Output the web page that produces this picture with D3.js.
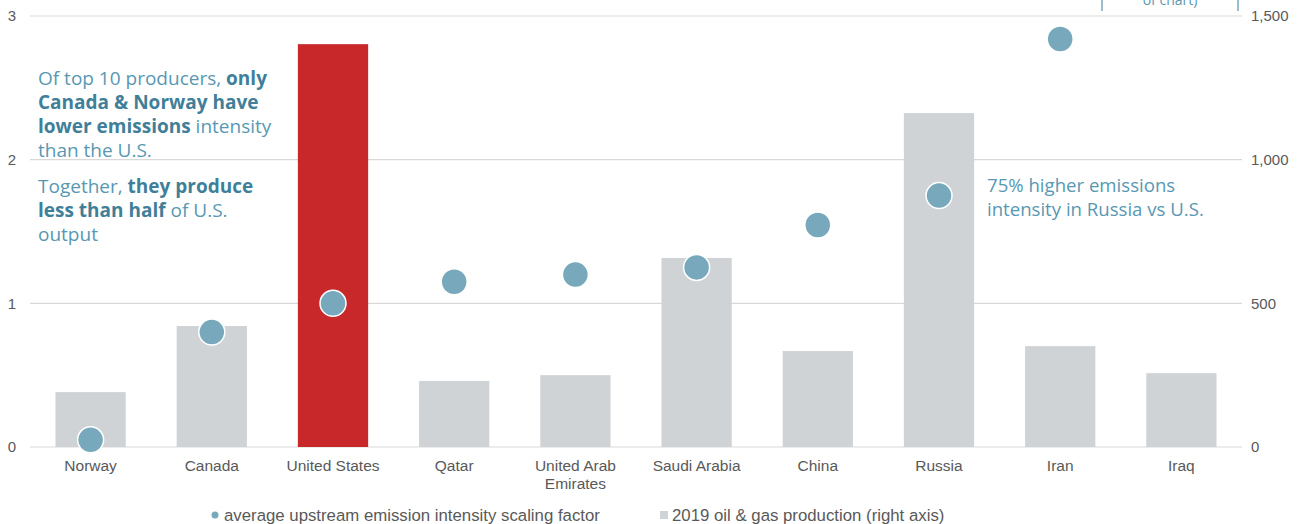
<!DOCTYPE html>
<html>
<head>
<meta charset="utf-8">
<script src="https://cdnjs.cloudflare.com/ajax/libs/d3/7.8.5/d3.min.js"></script>
<style>
  body { margin: 0; background: #fff; }
  svg { display: block; }
</style>
</head>
<body>
<main></main>
<script>
const countries = ["Norway", "Canada", "United States", "Qatar", "United Arab Emirates",
  "Saudi Arabia", "China", "Russia", "Iran", "Iraq"];
const production = [191, 421, 1402, 230, 250, 658, 334, 1162, 351, 257];
const intensity = [0.05, 0.80, 1.00, 1.15, 1.20, 1.25, 1.545, 1.75, 2.84, null];
const leftTicks = [0, 1, 2, 3];
const rightTicks = [0, 500, 1000, 1500];

const width = 1304, height = 524;
const plot = { left: 30, right: 1242, top: 16, bottom: 447 };

const svg = d3.select("main").append("svg")
  .attr("width", width).attr("height", height);

const x = d3.scaleBand().domain(countries).range([plot.left, plot.right]).paddingInner(0.42).paddingOuter(0.21);
const yL = d3.scaleLinear().domain([0, 3]).range([plot.bottom, plot.top]);
const yR = d3.scaleLinear().domain([0, 1500]).range([plot.bottom, plot.top]);

const axisFont = "'Liberation Sans', Arial, sans-serif";
const noteFont = "'Open Sans', 'Noto Sans', sans-serif";

// gridlines
svg.append("g").selectAll("line").data(leftTicks).enter().append("line")
  .attr("x1", plot.left).attr("x2", plot.right)
  .attr("y1", d => yL(d)).attr("y2", d => yL(d))
  .attr("stroke", "#d9d9d9").attr("stroke-width", 1.2);

// left axis
const leftAxis = svg.append("g").attr("transform", "translate(" + plot.left + ",0)")
  .call(d3.axisLeft(yL).tickValues(leftTicks).tickSize(0).tickPadding(14).tickFormat(d3.format("d")));
leftAxis.select(".domain").remove();
leftAxis.selectAll("text").style("font-family", axisFont).style("font-size", "15px").attr("fill", "#595959");

// right axis
const rightAxis = svg.append("g").attr("transform", "translate(" + plot.right + ",0)")
  .call(d3.axisRight(yR).tickValues(rightTicks).tickSize(0).tickPadding(9).tickFormat(d3.format(",")));
rightAxis.select(".domain").remove();
rightAxis.selectAll("text").style("font-family", axisFont).style("font-size", "15px").attr("fill", "#595959");

// bars
svg.append("g").selectAll("rect").data(countries).enter().append("rect")
  .attr("x", d => x(d))
  .attr("width", x.bandwidth())
  .attr("y", (d, i) => yR(production[i]))
  .attr("height", (d, i) => yR(0) - yR(production[i]))
  .attr("fill", d => d === "United States" ? "#c9282a" : "#d0d3d6");

// dots
svg.append("g").selectAll("circle")
  .data(countries.map((c, i) => ({ c, v: intensity[i] })).filter(d => d.v !== null))
  .enter().append("circle")
  .attr("cx", d => x(d.c) + x.bandwidth() / 2)
  .attr("cy", d => yL(d.v))
  .attr("r", 13)
  .attr("fill", "#77a8bc")
  .attr("stroke", "#fff").attr("stroke-width", 1.5);

// category labels
const cat = svg.append("g").selectAll("text").data(countries).enter().append("text")
  .attr("x", d => x(d) + x.bandwidth() / 2)
  .attr("y", 471)
  .attr("text-anchor", "middle")
  .style("font-family", axisFont).style("font-size", "15.5px").attr("fill", "#595959");
cat.each(function (d) {
  const t = d3.select(this);
  const parts = d === "United Arab Emirates" ? ["United Arab", "Emirates"] : [d];
  parts.forEach((p, i) => t.append("tspan").attr("x", x(d) + x.bandwidth() / 2).attr("dy", i ? 18 : 0).text(p));
});

// legend
const legend = svg.append("g").style("font-family", axisFont).style("font-size", "16.8px").attr("fill", "#595959");
legend.append("circle").attr("cx", 215).attr("cy", 515).attr("r", 3.5).attr("fill", "#77a8bc");
legend.append("text").attr("x", 224).attr("y", 521).text("average upstream emission intensity scaling factor");
legend.append("rect").attr("x", 660).attr("y", 511).attr("width", 8).attr("height", 8).attr("fill", "#d0d3d6");
legend.append("text").attr("x", 672).attr("y", 521).text("2019 oil & gas production (right axis)");

// annotations
const noteColor = "#5898b3", noteBold = "#3f7f99";
const leftNote = [
  [["Of top 10 producers, ", false], ["only", true]],
  [["Canada & Norway have", true]],
  [["lower emissions", true], [" intensity", false]],
  [["than the U.S.", false]],
  null,
  [["Together, ", false], ["they produce", true]],
  [["less than half", true], [" of U.S.", false]],
  [["output", false]]
];
const note = svg.append("text").style("font-family", noteFont).style("font-size", "19px").attr("fill", noteColor);
let ly = 85;
leftNote.forEach(line => {
  if (line === null) { ly += 12; return; }
  line.forEach(([s, b], j) => {
    const ts = note.append("tspan").text(s);
    if (j === 0) ts.attr("x", 38).attr("y", ly);
    if (b) ts.attr("font-weight", 700).attr("fill", noteBold);
  });
  ly += 24;
});

const rNote = svg.append("text").style("font-family", noteFont).style("font-size", "18.6px").attr("fill", noteColor);
["75% higher emissions", "intensity in Russia vs U.S."].forEach((s, i) =>
  rNote.append("tspan").attr("x", 987).attr("y", 192 + i * 24).text(s));

// bracket box at top right, mostly above the visible area
svg.append("line").attr("x1", 1102).attr("x2", 1102).attr("y1", 0).attr("y2", 11).attr("stroke", "#77a8bc").attr("stroke-width", 1.5);
svg.append("line").attr("x1", 1238).attr("x2", 1238).attr("y1", 0).attr("y2", 11).attr("stroke", "#77a8bc").attr("stroke-width", 1.5);
svg.append("text").attr("x", 1170).attr("y", 5).attr("text-anchor", "middle")
  .style("font-family", noteFont).style("font-size", "14px").attr("fill", noteColor).text("of chart)");
</script>
</body>
</html>
